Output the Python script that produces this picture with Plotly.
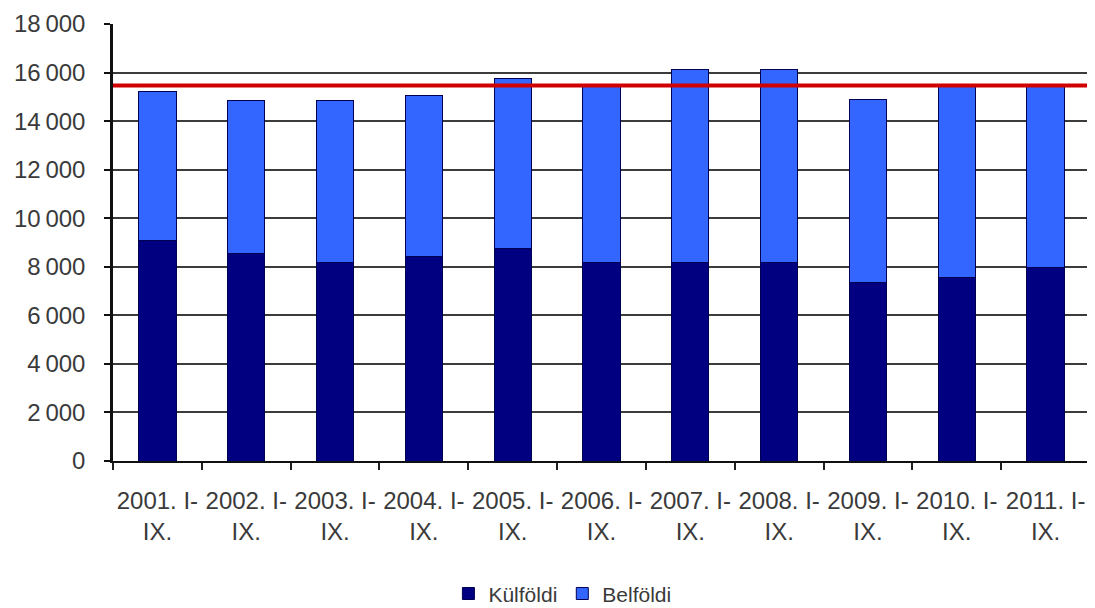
import plotly.graph_objects as go

categories = ["2001. I-<br>IX.", "2002. I-<br>IX.", "2003. I-<br>IX.", "2004. I-<br>IX.",
              "2005. I-<br>IX.", "2006. I-<br>IX.", "2007. I-<br>IX.", "2008. I-<br>IX.",
              "2009. I-<br>IX.", "2010. I-<br>IX.", "2011. I-<br>IX."]
kulfoldi = [9090, 8530, 8160, 8430, 8740, 8160, 8160, 8160, 7360, 7570, 7950]
total = [15200, 14830, 14830, 15060, 15770, 15520, 16140, 16140, 14900, 15450, 15450]
belfoldi = [t - k for t, k in zip(total, kulfoldi)]
reference_value = 15470
y_tickvals = [0, 2000, 4000, 6000, 8000, 10000, 12000, 14000, 16000, 18000]
y_ticktext = ["0", "2\u2009000", "4\u2009000", "6\u2009000", "8\u2009000", "10\u2009000",
              "12\u2009000", "14\u2009000", "16\u2009000", "18\u2009000"]

font_family = "Liberation Sans, Arial, sans-serif"

fig = go.Figure()
fig.add_trace(go.Bar(
    x=categories, y=kulfoldi, name="Külföldi",
    marker=dict(color="#000080", line=dict(color="#000050", width=1)),
))
fig.add_trace(go.Bar(
    x=categories, y=belfoldi, name="Belföldi",
    marker=dict(color="#3366ff", line=dict(color="#000050", width=1)),
))

fig.add_shape(type="line", xref="paper", yref="y", x0=0, x1=1,
              y0=reference_value, y1=reference_value,
              line=dict(color="#d00000", width=4), layer="above")
fig.add_shape(type="line", xref="paper", yref="paper", x0=1, x1=1, y0=0, y1=1,
              line=dict(color="#808080", width=1.5), layer="below")

fig.update_layout(
    width=1087, height=600,
    barmode="stack", bargap=0.58,
    plot_bgcolor="white", paper_bgcolor="white",
    margin=dict(l=105, r=5, t=16, b=147, autoexpand=False),
    font=dict(family=font_family, size=24, color="#3a3a3a"),
    showlegend=True,
    legend=dict(orientation="h", x=0.46, xanchor="center", y=-0.304, yanchor="middle",
                traceorder="normal", font=dict(size=21, color="#3a3a3a"),
                itemwidth=30, bgcolor="rgba(0,0,0,0)"),
    xaxis=dict(type="category", tickson="boundaries", ticks="outside", ticklen=7,
               tickcolor="#202020", tickwidth=1.5, tickangle=0, automargin=False,
               ticklabelstandoff=17,
               showline=True, linecolor="#101010", linewidth=2,
               showgrid=False, tickfont=dict(size=24)),
    yaxis=dict(range=[0, 18000], tickvals=y_tickvals, ticktext=y_ticktext,
               ticks="outside", ticklen=6, tickcolor="#101010", tickwidth=1.5,
               showline=True, linecolor="#101010", linewidth=2.5, automargin=False,
               showgrid=True, gridcolor="#3c3c3c", gridwidth=1.5,
               zeroline=False, ticklabelstandoff=14, tickfont=dict(size=24)),
)

fig.write_html("out.html")
